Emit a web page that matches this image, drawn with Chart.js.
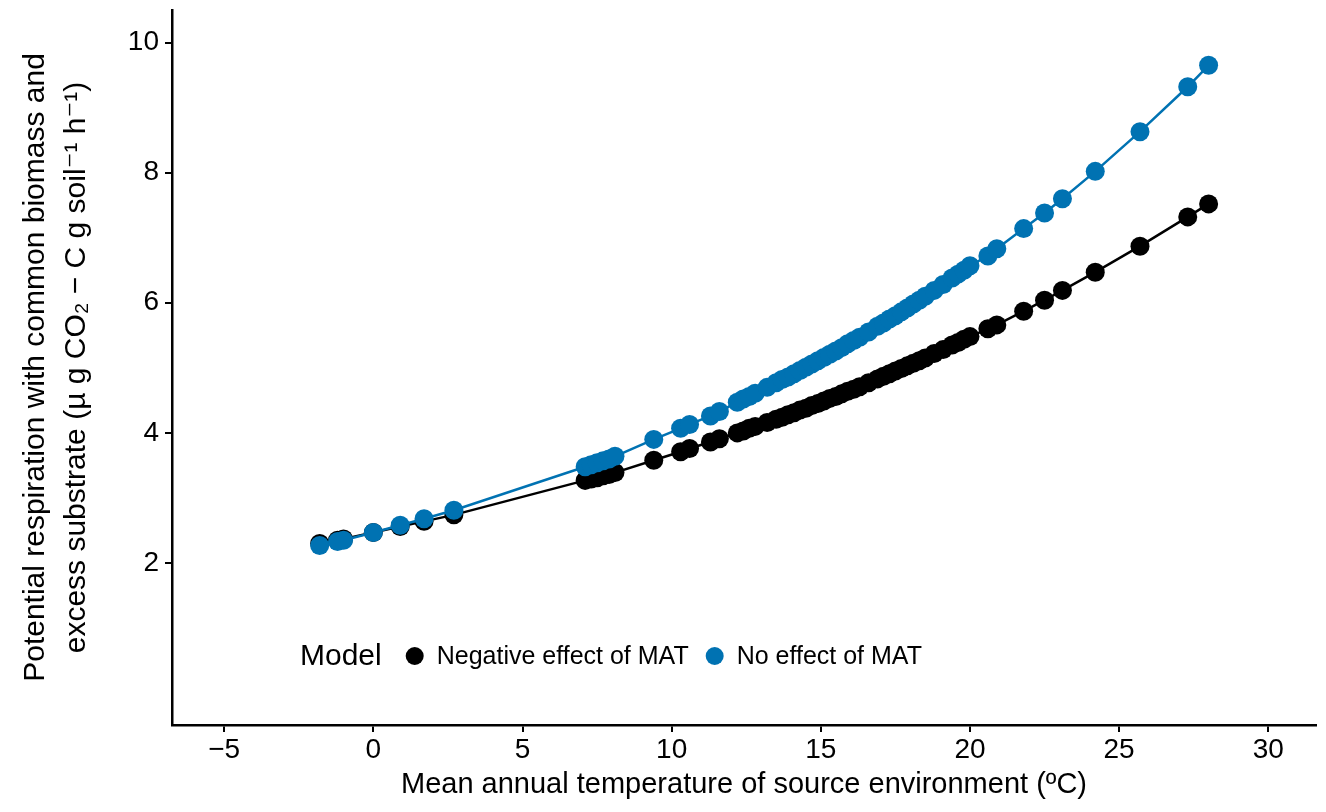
<!DOCTYPE html>
<html>
<head>
<meta charset="utf-8">
<script src="https://cdn.jsdelivr.net/npm/chart.js@4.4.1/dist/chart.umd.min.js"></script>
<style>
  html, body { margin: 0; padding: 0; background: #fff; }
  #wrap { width: 1326px; height: 812px; }
</style>
</head>
<body>
<div id="wrap"><canvas id="chart" width="1326" height="812"></canvas></div>
<script>
// Mean annual temperature (ºC) of each source site
var temps = [-1.8, -1.2, -1.0, 0.0, 0.9, 1.7, 2.7, 7.1, 7.3, 7.5, 7.7, 7.9, 8.1, 9.4, 10.3, 10.6,
  11.3, 11.6, 12.2, 12.4, 12.6, 12.8, 13.2, 13.5, 13.7, 13.9, 14.1, 14.3, 14.5, 14.7, 14.9, 15.1,
  15.3, 15.5, 15.7, 15.9, 16.1, 16.3, 16.6, 16.9, 17.1, 17.3, 17.5, 17.7, 17.9, 18.1, 18.3, 18.5,
  18.8, 19.1, 19.4, 19.6, 19.8, 20.0, 20.6, 20.9, 21.8, 22.5, 23.1, 24.2, 25.7, 27.3, 28.0];

// Model: negative effect of MAT
var negativeEffect = [2.30, 2.35, 2.37, 2.47, 2.56, 2.64, 2.74, 3.27, 3.29, 3.31, 3.34, 3.36, 3.39, 3.58, 3.71, 3.76,
  3.86, 3.91, 4.00, 4.03, 4.07, 4.10, 4.16, 4.21, 4.24, 4.28, 4.31, 4.35, 4.38, 4.42, 4.45, 4.49,
  4.53, 4.56, 4.60, 4.64, 4.67, 4.71, 4.77, 4.83, 4.87, 4.91, 4.95, 4.99, 5.03, 5.07, 5.11, 5.15,
  5.22, 5.28, 5.35, 5.39, 5.44, 5.48, 5.60, 5.66, 5.87, 6.04, 6.19, 6.47, 6.87, 7.32, 7.52];

// Model: no effect of MAT
var noEffect = [2.27, 2.33, 2.35, 2.47, 2.58, 2.68, 2.81, 3.48, 3.51, 3.54, 3.57, 3.60, 3.64, 3.90, 4.07, 4.13,
  4.26, 4.33, 4.47, 4.52, 4.56, 4.61, 4.70, 4.77, 4.82, 4.86, 4.91, 4.96, 5.01, 5.06, 5.11, 5.16,
  5.21, 5.26, 5.31, 5.37, 5.42, 5.47, 5.55, 5.64, 5.69, 5.75, 5.80, 5.86, 5.92, 5.98, 6.04, 6.10,
  6.19, 6.28, 6.38, 6.44, 6.50, 6.57, 6.72, 6.83, 7.14, 7.38, 7.60, 8.02, 8.63, 9.32, 9.65];

var xTicks = [-5, 0, 5, 10, 15, 20, 25, 30];
var yTicks = [2, 4, 6, 8, 10];
var seriesNames = ['Negative effect of MAT', 'No effect of MAT'];
var seriesColors = ['#000000', '#0072B2'];
var legendTitle = 'Model';

var FONT = '"Liberation Sans", Arial, "DejaVu Sans", sans-serif';

function toPoints(xs, ys) {
    return xs.map(function(x, i) { return { x: x, y: ys[i] }; });
}

// legend drawn inside the plot area, bottom left
var insideLegend = {
    id: 'insideLegend',
    afterDraw: function(chart) {
        var ctx = chart.ctx;
        var area = chart.chartArea;
        var cy = area.bottom - 69;
        var x = area.left + 128;
        ctx.save();
        ctx.textBaseline = 'middle';
        ctx.fillStyle = '#000';
        ctx.font = '30px ' + FONT;
        ctx.fillText(legendTitle, x, cy + 1);
        x += ctx.measureText(legendTitle).width + 33;
        ctx.font = '25px ' + FONT;
        for (var i = 0; i < seriesNames.length; i++) {
            ctx.beginPath();
            ctx.arc(x, cy, 9, 0, Math.PI * 2);
            ctx.fillStyle = seriesColors[i];
            ctx.fill();
            ctx.fillStyle = '#000';
            ctx.fillText(seriesNames[i], x + 22, cy + 1);
            x += 22 + ctx.measureText(seriesNames[i]).width + 26;
        }
        ctx.restore();
    }
};

var ctx = document.getElementById('chart').getContext('2d');
var chart = new Chart(ctx, {
    type: 'line',
    data: {
        datasets: [
            {
                label: seriesNames[0],
                data: toPoints(temps, negativeEffect),
                borderColor: seriesColors[0],
                backgroundColor: seriesColors[0],
                borderWidth: 2.5,
                pointRadius: 9.5,
                pointBorderWidth: 0,
                tension: 0,
                order: 2
            },
            {
                label: seriesNames[1],
                data: toPoints(temps, noEffect),
                borderColor: seriesColors[1],
                backgroundColor: seriesColors[1],
                borderWidth: 2.5,
                pointRadius: 9.5,
                pointBorderWidth: 0,
                tension: 0,
                order: 1
            }
        ]
    },
    options: {
        responsive: false,
        devicePixelRatio: 1,
        animation: false,
        layout: { padding: { left: 16, right: 10, top: 10, bottom: 4 } },
        plugins: {
            legend: { display: false },
            tooltip: { enabled: false }
        },
        scales: {
            x: {
                type: 'linear',
                min: -6.75,
                max: 31.6,
                afterBuildTicks: function(scale) {
                    scale.ticks = xTicks.map(function(v) { return { value: v }; });
                },
                afterFit: function(scale) { scale.height = 83; },
                border: { display: true, color: '#000', width: 2.5 },
                grid: { display: true, drawOnChartArea: false, drawTicks: true, tickLength: 7, color: '#000', lineWidth: 2 },
                ticks: {
                    color: '#000',
                    font: { family: FONT, size: 28 },
                    padding: 1,
                    maxRotation: 0,
                    callback: function(v) { return v < 0 ? '\u2212' + Math.abs(v) : String(v); }
                },
                title: {
                    display: true,
                    text: 'Mean annual temperature of source environment (\u00baC)',
                    color: '#000',
                    font: { family: FONT, size: 29 },
                    padding: { top: 0, bottom: 6 }
                }
            },
            y: {
                type: 'linear',
                min: -0.49,
                max: 10.5,
                afterBuildTicks: function(scale) {
                    scale.ticks = yTicks.map(function(v) { return { value: v }; });
                },
                afterFit: function(scale) {
                    scale.width = 156;
                    // let the plot reach the top edge like the original
                    scale.paddingTop = 0;
                    scale.paddingBottom = 0;
                },
                border: { display: true, color: '#000', width: 2.5 },
                grid: { display: true, drawOnChartArea: false, drawTicks: true, tickLength: 7, color: '#000', lineWidth: 2 },
                ticks: {
                    color: '#000',
                    font: { family: FONT, size: 28 },
                    padding: 6
                },
                title: {
                    display: true,
                    text: ['Potential respiration with common biomass and',
                           'excess substrate (\u00b5 g CO\u2082 \u2212 C g soil\u207b\u00b9 h\u207b\u00b9)'],
                    color: '#000',
                    font: { family: FONT, size: 30, lineHeight: 1.34 },
                    padding: { top: 0, bottom: 4 }
                }
            }
        }
    },
    plugins: [insideLegend]
});
</script>
</body>
</html>
